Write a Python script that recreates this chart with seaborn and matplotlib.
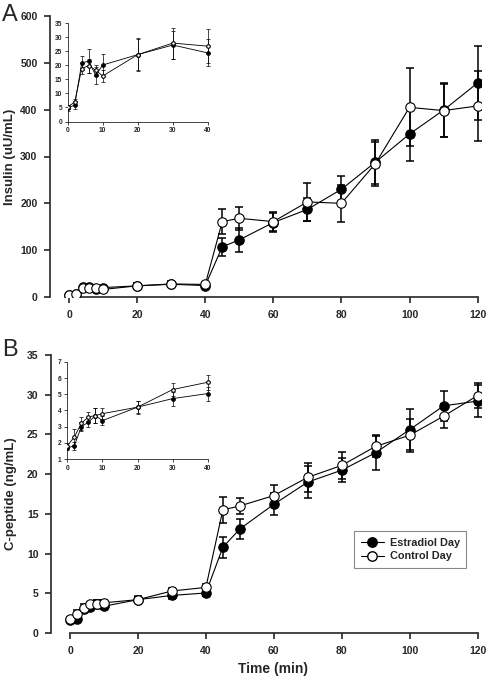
import numpy as np
import pandas as pd
import matplotlib
matplotlib.use("Agg")
import matplotlib.pyplot as plt
import seaborn as sns
from matplotlib.lines import Line2D

sns.set_style("ticks")
plt.rcParams['font.family'] = ['Liberation Sans', 'DejaVu Sans']
plt.rcParams['font.weight'] = 'bold'

# sampling times (min)
times = [0, 2, 4, 6, 8, 10, 20, 30, 40, 45, 50, 60, 70, 80, 90, 100, 110, 120]

# insulin (uU/mL), mean and SEM
ins_estr = [4.7, 5.9, 20.8, 21.5, 16.4, 20.1, 23.8, 27.2, 24.4, 107, 122, 159, 187, 230, 288, 348, 399, 457]
ins_estr_sem = [1.0, 1.5, 2.4, 4.3, 3.0, 4.0, 6.0, 5.0, 4.8, 20, 25, 20, 24, 29, 47, 58, 57, 80]
ins_ctrl = [5.2, 6.9, 18.8, 19.9, 18.2, 16.2, 23.8, 27.9, 26.8, 161, 168, 161, 203, 200, 285, 405, 398, 408]
ins_ctrl_sem = [0.8, 1.2, 2.0, 2.5, 2.0, 2.0, 5.5, 5.5, 6.0, 27, 25, 20, 40, 40, 47, 83, 57, 74]

# C-peptide (ng/mL), mean and SEM
cp_estr = [1.68, 1.82, 3.0, 3.27, 3.68, 3.37, 4.2, 4.73, 5.04, 10.8, 13.1, 16.2, 19.0, 20.5, 22.7, 25.6, 28.6, 29.2]
cp_estr_sem = [0.15, 0.25, 0.3, 0.3, 0.45, 0.3, 0.35, 0.43, 0.43, 1.3, 1.3, 1.4, 2.0, 1.5, 2.2, 2.6, 1.9, 2.0]
cp_ctrl = [1.82, 2.36, 3.2, 3.6, 3.68, 3.8, 4.2, 5.29, 5.74, 15.5, 16.0, 17.3, 19.6, 21.1, 23.5, 24.9, 27.3, 29.9]
cp_ctrl_sem = [0.15, 0.5, 0.4, 0.3, 0.45, 0.35, 0.4, 0.4, 0.47, 1.6, 1.0, 1.3, 1.8, 1.7, 1.3, 2.1, 1.5, 1.6]

labels = ['Estradiol Day', 'Control Day']

fig = plt.figure(figsize=(4.88, 6.78), dpi=100)
W, H = 488, 678

def px_axes(l, t, r, b):
    return fig.add_axes([l / W, 1 - b / H, (r - l) / W, (b - t) / H])


def draw(ax, estr, estr_sem, ctrl, ctrl_sem, tmax, ms, cap, lw, elw):
    t = np.array(times)
    keep = t <= tmax
    df = pd.DataFrame({'time': t[keep], 'estr': np.array(estr)[keep], 'ctrl': np.array(ctrl)[keep]})
    ax.errorbar(df['time'], df['estr'], yerr=np.array(estr_sem)[keep], fmt='none',
                ecolor='black', elinewidth=elw, capsize=cap, capthick=elw, zorder=2)
    ax.errorbar(df['time'], df['ctrl'], yerr=np.array(ctrl_sem)[keep], fmt='none',
                ecolor='black', elinewidth=elw, capsize=cap, capthick=elw, zorder=2)
    sns.lineplot(data=df, x='time', y='estr', ax=ax, color='black', lw=lw, marker='o',
                 markersize=ms, markerfacecolor='black', markeredgecolor='black',
                 markeredgewidth=0.8, zorder=3)
    sns.lineplot(data=df, x='time', y='ctrl', ax=ax, color='black', lw=lw, marker='o',
                 markersize=ms, markerfacecolor='white', markeredgecolor='black',
                 markeredgewidth=0.8, zorder=4)
    ax.set_xlabel('')
    ax.set_ylabel('')
    sns.despine(ax=ax)


def style_main(ax, ymax, ystep):
    ax.set_xlim(-5.6, 121)
    ax.set_ylim(0, ymax)
    ax.set_xticks(range(0, 121, 20))
    ax.set_yticks(np.arange(0, ymax + 0.1, ystep))
    ax.spines['bottom'].set_bounds(0, 120)
    for s in ['left', 'bottom']:
        ax.spines[s].set_linewidth(1.2)
    ax.tick_params(labelsize=7.5, width=1.2, length=4, pad=5)
    for lab in ax.get_xticklabels() + ax.get_yticklabels():
        lab.set_fontweight('bold')


def style_inset(ax, ylo, yhi, ystep, ytop):
    ax.set_xlim(0, 40.6)
    ax.set_ylim(ylo, ytop)
    ax.set_xticks(range(0, 41, 10))
    ax.set_yticks(np.arange(ylo, yhi + 0.01, ystep))
    ax.spines['left'].set_bounds(ylo, yhi)
    ax.spines['bottom'].set_bounds(0, 40)
    for s in ['left', 'bottom']:
        ax.spines[s].set_linewidth(0.6)
    ax.tick_params(labelsize=4.8, width=0.6, length=2, pad=2)
    ax.patch.set_alpha(0)
    for lab in ax.get_xticklabels() + ax.get_yticklabels():
        lab.set_fontweight('bold')


# panel A
axA = px_axes(50, 16, 481, 297)
draw(axA, ins_estr, ins_estr_sem, ins_ctrl, ins_ctrl_sem, 120, 6.8, 3, 0.8, 1.1)
style_main(axA, 600, 100)
axA.set_ylabel('Insulin (uU/mL)', fontsize=9.5, fontweight='bold', labelpad=3)

insA = px_axes(67.7, 22, 210, 121.5)
draw(insA, ins_estr, ins_estr_sem, ins_ctrl, ins_ctrl_sem, 40, 2.6, 1.2, 0.6, 0.5)
style_inset(insA, 0, 35, 5, 35.4)

# panel B
axB = px_axes(51, 355, 481, 633)
draw(axB, cp_estr, cp_estr_sem, cp_ctrl, cp_ctrl_sem, 120, 6.8, 3, 0.8, 1.1)
style_main(axB, 35, 5)
axB.set_ylabel('C-peptide (ng/mL)', fontsize=9.5, fontweight='bold', labelpad=7)
axB.set_xlabel('Time (min)', fontsize=10, fontweight='bold')
axB.xaxis.set_label_coords((273 - 51) / 430, -0.105)

insB = px_axes(67.3, 361, 210, 459)
draw(insB, cp_estr, cp_estr_sem, cp_ctrl, cp_ctrl_sem, 40, 2.6, 1.2, 0.6, 0.5)
style_inset(insB, 1, 7, 1, 7.05)

handles = [
    Line2D([], [], color='black', lw=0.8, marker='o', markersize=6.8,
           markerfacecolor='black', markeredgecolor='black'),
    Line2D([], [], color='black', lw=0.8, marker='o', markersize=6.8,
           markerfacecolor='white', markeredgecolor='black'),
]
leg = axB.legend(handles, labels, loc='upper left', bbox_to_anchor=(354 / W, 1 - 531 / H),
                 bbox_transform=fig.transFigure, borderaxespad=0, fancybox=False,
                 edgecolor='#888888', framealpha=1, prop={'size': 7.8, 'weight': 'bold'},
                 handlelength=2.2, handletextpad=0.5, borderpad=0.6, labelspacing=0.35)
leg.get_frame().set_linewidth(0.8)

fig.text(2 / W, 1 - 4 / H, 'A', fontsize=17, fontweight='normal', va='top', ha='left')
fig.text(2 / W, 1 - 339 / H, 'B', fontsize=17, fontweight='normal', va='top', ha='left')

fig.savefig('out.png', dpi=100)
